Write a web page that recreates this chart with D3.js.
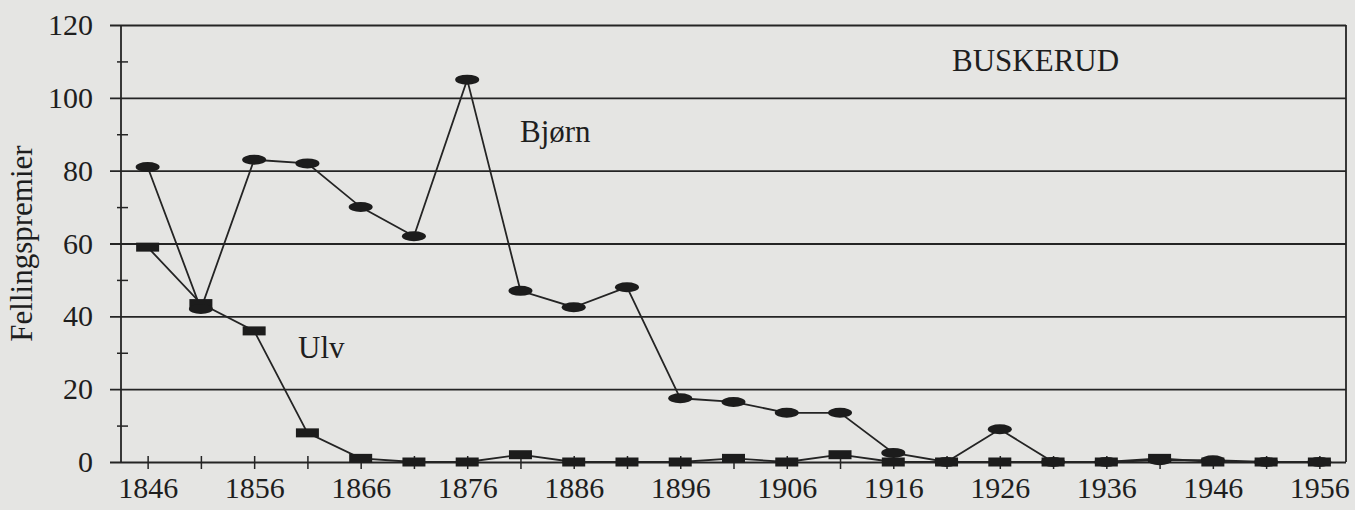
<!DOCTYPE html>
<html>
<head>
<meta charset="utf-8">
<script src="https://cdn.jsdelivr.net/npm/d3@7"></script>
<style>
  html, body { margin: 0; padding: 0; background: #e5e5e3; }
  svg { display: block; }
  text { font-family: "Liberation Serif", "Times New Roman", serif; fill: #1e1e1e; }
</style>
</head>
<body>
<svg id="chart" width="1355" height="510"></svg>
<script>
const years = [1846,1851,1856,1861,1866,1871,1876,1881,1886,1891,1896,1901,1906,1911,1916,1921,1926,1931,1936,1941,1946,1951,1956];
const bjorn = [81,42,83,82,70,62,105,47,42.5,48,17.5,16.5,13.5,13.5,2.5,0,9,0,0,0.5,0.5,0,0];
const ulv   = [59,43.5,36,8,1,0,0,2,0,0,0,1,0,2,0,0,0,0,0,1,0,0,0];
const yMajor = [0,20,40,60,80,100,120];
const yMinor = [10,30,50,70,90,110];
const xLabelYears = [1846,1856,1866,1876,1886,1896,1906,1916,1926,1936,1946,1956];
const yTitle = "Fellingspremier";
const seriesLabels = [{text:"Bjørn"},{text:"Ulv"}];
const region = "BUSKERUD";

const W = 1355, H = 510;
const pLeft = 121, pRight = 1346, pTop = 25, pBottom = 462;
const ink = "#242424";

const svg = d3.select("#chart");
svg.append("rect").attr("width", W).attr("height", H).attr("fill", "#e5e5e3");

const x = d3.scalePoint().domain(years).range([pLeft, pRight]).padding(0.5);
const y = d3.scaleLinear().domain([0, 120]).range([pBottom, pTop]);

// Gridlines + y labels
const yAxis = svg.append("g")
  .attr("transform", `translate(110,0)`)
  .call(d3.axisLeft(y).tickValues(yMajor).tickSize(-(pRight - 110)).tickPadding(17).tickFormat(d3.format("d")));
yAxis.select(".domain").remove();
yAxis.selectAll(".tick line").attr("stroke", ink).attr("stroke-width", 1.8);
yAxis.selectAll(".tick text").attr("font-size", 30).attr("font-family", "Liberation Serif").attr("fill", "#1e1e1e");

// Minor ticks
const yMinorAxis = svg.append("g")
  .attr("transform", `translate(128,0)`)
  .call(d3.axisLeft(y).tickValues(yMinor).tickSize(11).tickFormat(""));
yMinorAxis.select(".domain").remove();
yMinorAxis.selectAll(".tick line").attr("stroke", ink).attr("stroke-width", 1.5);

// Frame lines
svg.append("line").attr("x1", pLeft).attr("x2", pLeft).attr("y1", y(120)).attr("y2", y(0))
  .attr("stroke", ink).attr("stroke-width", 1.8);
svg.append("line").attr("x1", pRight).attr("x2", pRight).attr("y1", y(120)).attr("y2", y(0))
  .attr("stroke", ink).attr("stroke-width", 1.8);

// X axis
const xAxis = svg.append("g")
  .attr("transform", `translate(0,456)`)
  .call(d3.axisBottom(x).tickSize(13).tickPadding(8)
    .tickFormat(d => xLabelYears.includes(d) ? String(d) : ""));
xAxis.select(".domain").remove();
xAxis.selectAll(".tick line").attr("stroke", ink).attr("stroke-width", 1.5);
xAxis.selectAll(".tick text").attr("font-size", 30).attr("font-family", "Liberation Serif").attr("fill", "#1e1e1e");

// Series lines
const line = d3.line().x((d, i) => x(years[i])).y(d => y(d));
svg.append("path").datum(ulv).attr("d", line).attr("fill", "none").attr("stroke", ink).attr("stroke-width", 1.8);
svg.append("path").datum(bjorn).attr("d", line).attr("fill", "none").attr("stroke", ink).attr("stroke-width", 1.8);

// Markers
svg.append("g").selectAll("rect").data(ulv).join("rect")
  .attr("x", (d, i) => x(years[i]) - 11.5).attr("y", d => y(d) - 4.5)
  .attr("width", 23).attr("height", 9).attr("fill", "#1c1c1c");
svg.append("g").selectAll("ellipse").data(bjorn).join("ellipse")
  .attr("cx", (d, i) => x(years[i])).attr("cy", d => y(d))
  .attr("rx", 12).attr("ry", 5).attr("fill", "#1c1c1c");

// Texts
svg.append("text").attr("transform", `translate(32,${(pTop + pBottom) / 2}) rotate(-90)`)
  .attr("text-anchor", "middle").attr("font-size", 31).text(yTitle);
svg.append("text").attr("x", 520).attr("y", 142).attr("font-size", 31).text(seriesLabels[0].text);
svg.append("text").attr("x", 298).attr("y", 358).attr("font-size", 31).text(seriesLabels[1].text);
svg.append("text").attr("x", 952).attr("y", 71).attr("font-size", 31).text(region);
</script>
</body>
</html>
